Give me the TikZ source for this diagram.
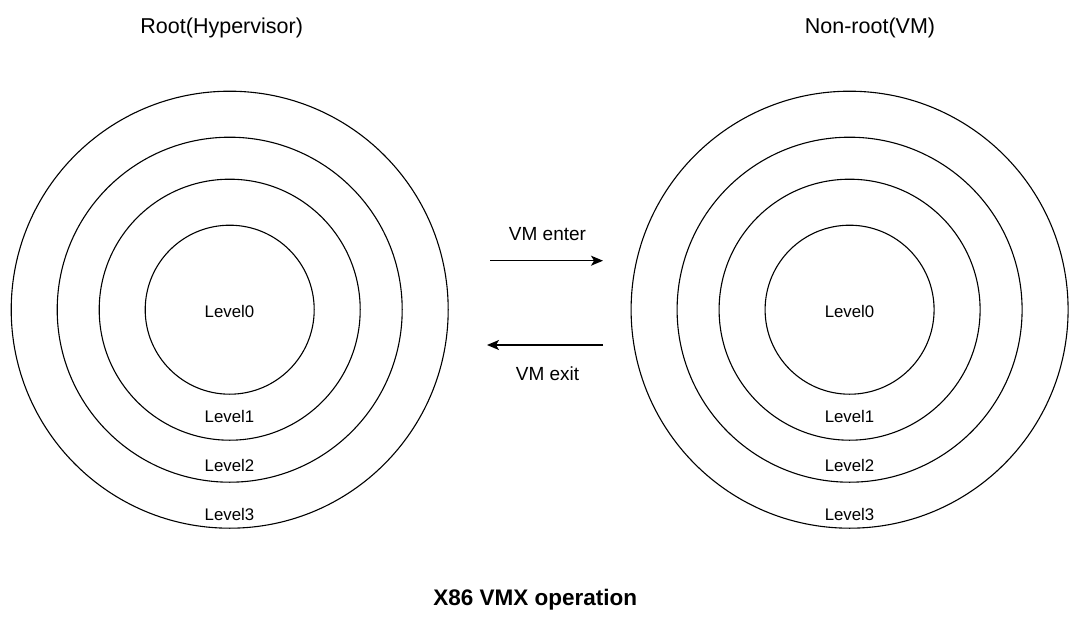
\documentclass[tikz,border=0pt]{standalone}
\usepackage{fontspec}
\setmainfont{Liberation Sans}
\usetikzlibrary{arrows.meta}
\begin{document}
\begin{tikzpicture}[x=1pt,y=-1pt,
  ring/.style={circle,draw,line width=1.1pt,inner sep=0pt,minimum size=#1},
  lvl/.style={anchor=base,font=\fontsize{16.8}{20}\selectfont},
  ttl/.style={anchor=base,font=\fontsize{21.5}{26}\selectfont},
  vmlab/.style={anchor=base,font=\fontsize{19}{23}\selectfont},
  captext/.style={anchor=base,font=\fontsize{22.5}{27}\selectfont\bfseries},
  arr/.style={line width=1.3pt,-{Stealth[length=12pt,width=10pt,inset=3pt]}}]
\useasboundingbox (0,0) rectangle (1080,624);
\fill[white] (0,0) rectangle (1080,624);
% left rings
\node[ring=437pt] (L3) at (229.7,309.7) {};
\node[ring=345pt] (L2) at (229.7,309.7) {};
\node[ring=261pt] (L1) at (229.7,309.7) {};
\node[ring=169pt] (L0) at (229.7,309.7) {};
% right rings
\node[ring=437pt] (R3) at (849.6,309.7) {};
\node[ring=345pt] (R2) at (849.6,309.7) {};
\node[ring=261pt] (R1) at (849.6,309.7) {};
\node[ring=169pt] (R0) at (849.6,309.7) {};
% level labels
\node[lvl] (lt0) at (229.5,317.3) {Level0};
\node[lvl] (lt1) at (229.5,422.7) {Level1};
\node[lvl] (lt2) at (229.5,471.7) {Level2};
\node[lvl] (lt3) at (229.5,520.7) {Level3};
\node[lvl] (rt0) at (849.5,317.3) {Level0};
\node[lvl] (rt1) at (849.5,422.7) {Level1};
\node[lvl] (rt2) at (849.5,471.7) {Level2};
\node[lvl] (rt3) at (849.5,520.7) {Level3};
% titles
\node[ttl] (troot) at (221.7,33.5) {Root(Hypervisor)};
\node[ttl] (tvm) at (870,33.5) {Non-root(VM)};
% arrows
\coordinate (ea) at (490,260.7);
\coordinate (eb) at (603,260.7);
\coordinate (xa) at (603,345);
\coordinate (xb) at (487,345);
\draw[arr] (ea) -- (eb);
\draw[arr] (xa) -- (xb);
\node[vmlab] (venter) at (547.5,240) {VM enter};
\node[vmlab] (vexit) at (547.5,380.7) {VM exit};
% caption
\node[captext] (caption) at (535.3,605) {X86 VMX operation};
\end{tikzpicture}
\end{document}
